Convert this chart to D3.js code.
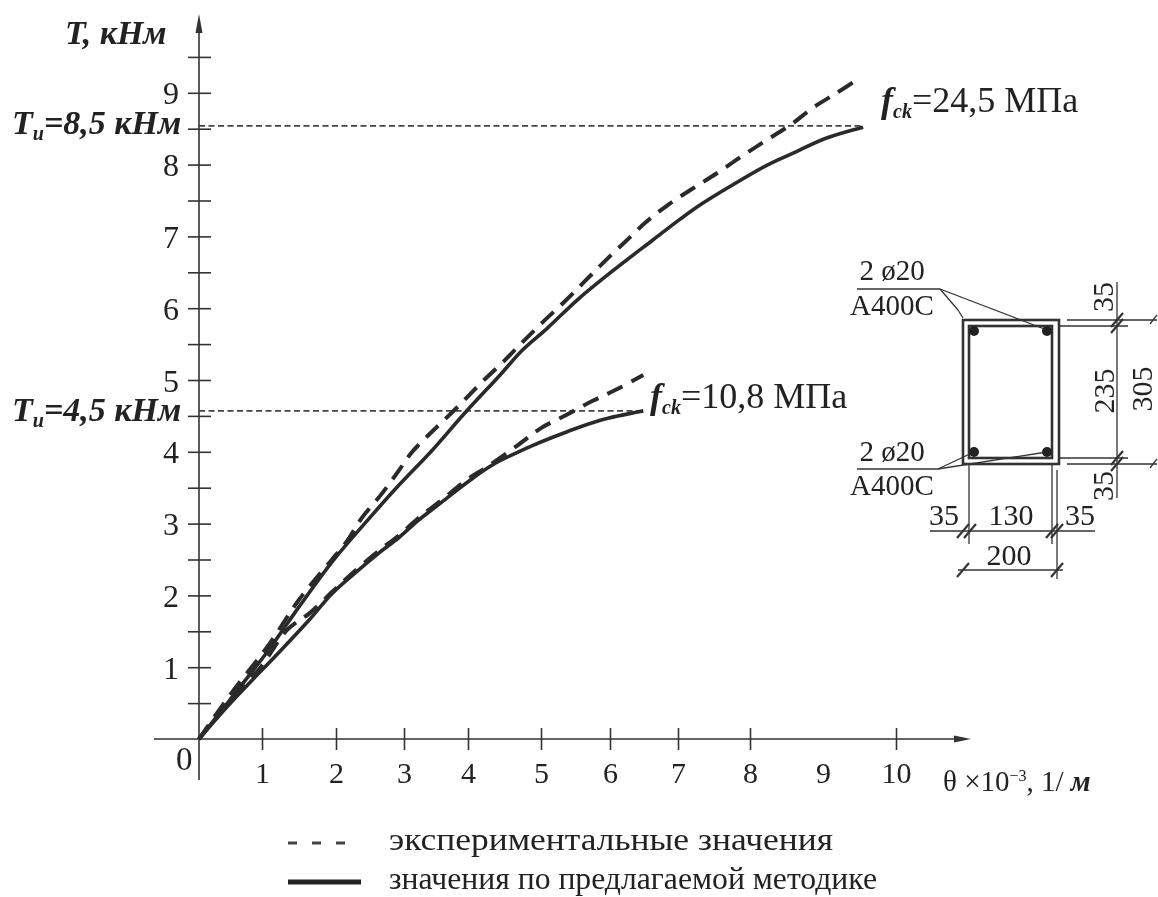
<!DOCTYPE html>
<html>
	<head>
		<meta charset="utf-8">
		<title>T - theta</title>
		<script src="https://d3js.org/d3.v7.min.js"></script>
		<style type="text/css">
			html, body { margin: 0; padding: 0; background: #fff; }
			svg { display: block; filter: blur(0.45px); }
			text { font-family: "Liberation Serif", serif; fill: #222; }
			.axis path, .axis line { fill: none; stroke: #333; stroke-width: 1.6; }
			.axis text { font-family: "Liberation Serif", serif; fill: #222; }
			.bi { font-weight: bold; font-style: italic; }
			.sec line, .sec polyline, .sec rect { fill: none; stroke: #333; stroke-width: 1.3; }
		</style>
	</head>
	<body>
		<script type="text/javascript">

			// values: [theta x 10^-3, T]
			var xTickValues = [0, 1, 2, 3, 4, 5, 6, 7, 8, 9, 10];
			var yTickValues = [0.5, 1, 1.5, 2, 2.5, 3, 3.5, 4, 4.5, 5, 5.5, 6, 6.5, 7, 7.5, 8, 8.5, 9, 9.5];

			var highCalc = [[0,0],[0.49,0.543],[1.09,1.24],[1.5,1.84],[1.95,2.47],[2.44,3.02],[2.93,3.54],[3.42,4],[3.95,4.54],[4.44,5.07],[4.75,5.42],[5.09,5.72],[5.52,6.11],[5.96,6.46],[6.63,6.95],[7.03,7.24],[7.31,7.44],[7.68,7.67],[8.23,7.99],[8.59,8.16],[9.05,8.37],[9.55,8.52]];
			var highExp = [[0,0],[0.49,0.61],[1.09,1.31],[1.5,1.94],[1.93,2.48],[2.15,2.74],[2.38,3.08],[2.66,3.4],[2.91,3.72],[3.11,3.98],[3.38,4.23],[3.59,4.41],[3.91,4.69],[4.19,4.97],[4.48,5.25],[4.75,5.53],[5.03,5.81],[5.35,6.1],[5.64,6.38],[5.93,6.66],[6.24,6.94],[6.53,7.2],[6.87,7.45],[7.21,7.67],[7.54,7.88],[7.89,8.12],[8.21,8.33],[8.55,8.55],[8.86,8.79],[9.19,9],[9.51,9.21]];
			var lowCalc = [[0,0],[0.49,0.49],[1.26,1.24],[1.64,1.66],[1.95,2.03],[2.24,2.28],[2.63,2.59],[2.93,2.81],[3.23,3.05],[3.59,3.3],[3.98,3.57],[4.34,3.82],[4.89,4.09],[5.38,4.28],[5.86,4.44],[6.49,4.57]];
			var lowExp = [[0,0],[0.49,0.54],[0.97,0.99],[1.34,1.52],[1.64,1.75],[1.95,2.05],[2.24,2.31],[2.63,2.62],[2.93,2.84],[3.23,3.08],[3.59,3.33],[3.98,3.61],[4.26,3.79],[4.68,4.09],[5,4.33],[5.36,4.51],[5.75,4.71],[6.1,4.87],[6.49,5.07]];

			var ultimateLines = [[8.54, 9.55], [4.57, 6.49]];
			var legendLabels = ['экспериментальные значения', 'значения по предлагаемой методике'];

			var svg = d3.select('body')
				.append('svg')
				.attr('width', 1158)
				.attr('height', 897);

			// the printed ticks are unevenly spaced, so the x scale goes through each of them
			var xScale = d3.scaleLinear()
				.domain(xTickValues)
				.range([199, 262, 336, 404, 468, 541, 610, 678, 750, 823, 896]);

			var yScale = d3.scaleLinear()
				.domain([0, 9])
				.range([739, 92.8]);

			var xAxis = d3.axisBottom(xScale)
				.tickValues(xTickValues.slice(1))
				.tickSizeOuter(0)
				.tickFormat(d3.format('d'));

			var yAxis = d3.axisLeft(yScale)
				.tickValues(yTickValues)
				.tickSizeOuter(0)
				.tickFormat(function(d) { return d % 1 === 0 ? d : ''; });

			var gx = svg.append('g')
				.attr('class', 'axis')
				.attr('transform', 'translate(0,' + yScale(0) + ')')
				.call(xAxis);
			gx.select('.domain').remove();
			gx.selectAll('.tick line').attr('y1', -11).attr('y2', 11);
			gx.selectAll('.tick').filter(function(d) { return d === 9; }).select('line').remove();
			gx.selectAll('.tick text')
				.attr('y', 44)
				.attr('dy', 0)
				.attr('font-size', 30)
				.attr('text-anchor', 'middle');

			var gy = svg.append('g')
				.attr('class', 'axis')
				.attr('transform', 'translate(' + xScale(0) + ',0)')
				.call(yAxis);
			gy.select('.domain').remove();
			gy.selectAll('.tick line').attr('x1', -11).attr('x2', 12);
			gy.selectAll('.tick text')
				.attr('x', -28)
				.attr('dy', 11)
				.attr('font-size', 32)
				.attr('text-anchor', 'middle');

			// axis lines with arrow heads
			var axisLines = svg.append('g').attr('class', 'axis');
			axisLines.append('line').attr('x1', 154).attr('x2', 965).attr('y1', yScale(0)).attr('y2', yScale(0));
			axisLines.append('line').attr('x1', xScale(0)).attr('x2', xScale(0)).attr('y1', 780).attr('y2', 25);
			svg.append('path').attr('d', 'M199 14 L195.5 33 L202.5 33 Z').attr('fill', '#333');
			svg.append('path').attr('d', 'M971 739 L954 735.5 L954 742.5 Z').attr('fill', '#333');

			// dashed limit lines
			svg.selectAll('.ult')
				.data(ultimateLines)
				.enter()
				.append('line')
				.attr('class', 'ult')
				.attr('x1', xScale(0))
				.attr('x2', function(d) { return xScale(d[1]); })
				.attr('y1', function(d) { return yScale(d[0]); })
				.attr('y2', function(d) { return yScale(d[0]); })
				.attr('stroke', '#444')
				.attr('stroke-width', 1.8)
				.attr('stroke-dasharray', '6 3.5');

			var line = d3.line()
				.x(function(d) { return xScale(d[0]); })
				.y(function(d) { return yScale(d[1]); })
				.curve(d3.curveCatmullRom);

			[highCalc, lowCalc].forEach(function(s) {
				svg.append('path')
					.attr('d', line(s))
					.attr('fill', 'none')
					.attr('stroke', '#2a2a2a')
					.attr('stroke-width', 3.6);
			});
			[highExp, lowExp].forEach(function(s) {
				svg.append('path')
					.attr('d', line(s))
					.attr('fill', 'none')
					.attr('stroke', '#2a2a2a')
					.attr('stroke-width', 4)
					.attr('stroke-dasharray', '17 10');
			});

			// labels
			function boldLabel(x, y, main, sub, rest) {
				var t = svg.append('text').attr('class', 'bi').attr('x', x).attr('y', y).attr('font-size', 34);
				t.append('tspan').text(main);
				t.append('tspan').attr('font-size', 20).attr('dy', 6).text(sub);
				t.append('tspan').attr('dy', -6).text(rest);
			}
			svg.append('text').attr('class', 'bi').attr('x', 65).attr('y', 44).attr('font-size', 34).text('T, кНм');
			boldLabel(12, 134, 'T', 'u', '=8,5 кНм');
			boldLabel(12, 421, 'T', 'u', '=4,5 кНм');

			svg.append('text').attr('x', 176).attr('y', 770).attr('font-size', 33).text('0');

			function fckLabel(x, y, rest) {
				var t = svg.append('text').attr('x', x).attr('y', y).attr('font-size', 36);
				t.append('tspan').attr('font-style', 'italic').attr('font-weight', 'bold').text('f');
				t.append('tspan').attr('font-style', 'italic').attr('font-weight', 'bold').attr('font-size', 20).attr('dy', 6).text('ck');
				t.append('tspan').attr('dy', -6).text(rest);
			}
			fckLabel(881, 112, '=24,5 МПа');
			fckLabel(650, 408, '=10,8 МПа');

			var xTitle = svg.append('text').attr('x', 943).attr('y', 791).attr('font-size', 29);
			xTitle.append('tspan').text('θ ×10');
			xTitle.append('tspan').attr('font-size', 16).attr('dy', -10).text('−3');
			xTitle.append('tspan').attr('dy', 10).text(', 1/ ');
			xTitle.append('tspan').attr('font-style', 'italic').attr('font-weight', 'bold').text('м');

			// legend
			svg.append('line').attr('x1', 288).attr('x2', 346).attr('y1', 843).attr('y2', 843)
				.attr('stroke', '#444').attr('stroke-width', 3).attr('stroke-dasharray', '9 15');
			svg.append('line').attr('x1', 288).attr('x2', 361).attr('y1', 882).attr('y2', 882)
				.attr('stroke', '#222').attr('stroke-width', 5);
			svg.selectAll('.legend')
				.data(legendLabels)
				.enter()
				.append('text')
				.attr('class', 'legend')
				.attr('x', 389)
				.attr('y', function(d, i) { return 850 + i * 39; })
				.attr('font-size', 31)
				.attr('textLength', function(d, i) { return i ? 488 : 444; })
				.attr('lengthAdjust', 'spacingAndGlyphs')
				.text(function(d) { return d; });

			// cross section sketch
			var sec = svg.append('g').attr('class', 'sec');
			var secLines = [
				[857,289,940,289],[940,289,958,310],[958,310,963,318],[940,289,1047,330],
				[857,469,938,469],[938,469,974,452],[938,469,1047,452],
				[1067,320,1157,320],[1059,326,1128,326],[1117,282,1117,498],
				[1059,458,1128,458],[1067,464,1157,464],
				[969,464,969,544],[1052,464,1052,544],[1057,470,1057,579],
				[930,531,1095,531],[958,570,1063,570],
				[1150,324,1157,315],[1150,468,1157,459]
			];
			sec.selectAll('.dim')
				.data(secLines)
				.enter()
				.append('line')
				.attr('class', 'dim')
				.attr('x1', function(d) { return d[0]; })
				.attr('y1', function(d) { return d[1]; })
				.attr('x2', function(d) { return d[2]; })
				.attr('y2', function(d) { return d[3]; });

			var slashes = [[1117,320],[1117,326],[1117,458],[1117,464],[963,531],[970,531],[1052,531],[1057,531],[963,570],[1057,570]];
			sec.selectAll('.slash')
				.data(slashes)
				.enter()
				.append('line')
				.attr('class', 'slash')
				.attr('x1', function(d) { return d[0] - 6; })
				.attr('y1', function(d) { return d[1] + 7; })
				.attr('x2', function(d) { return d[0] + 6; })
				.attr('y2', function(d) { return d[1] - 7; })
				.style('stroke-width', 2.2);

			sec.append('rect').attr('x', 963).attr('y', 320).attr('width', 96).attr('height', 144).style('stroke-width', 2.6);
			sec.append('rect').attr('x', 969).attr('y', 326).attr('width', 83).attr('height', 132).style('stroke-width', 2.6);

			var secBars = [[974,331],[1047,331],[974,452],[1047,452]];
			sec.selectAll('circle')
				.data(secBars)
				.enter()
				.append('circle')
				.attr('cx', function(d) { return d[0]; })
				.attr('cy', function(d) { return d[1]; })
				.attr('r', 5)
				.attr('fill', '#222');

			var secTexts = [
				['2 ø20', 892, 280, 29], ['А400С', 892, 315, 29], ['2 ø20', 892, 461, 29], ['А400С', 892, 495, 29],
				['35', 944, 525, 30], ['130', 1011, 525, 30], ['35', 1080, 525, 30], ['200', 1009, 565, 30]
			];
			sec.selectAll('.st')
				.data(secTexts)
				.enter()
				.append('text')
				.attr('class', 'st')
				.attr('x', function(d) { return d[1]; })
				.attr('y', function(d) { return d[2]; })
				.attr('text-anchor', 'middle')
				.attr('font-size', function(d) { return d[3]; })
				.text(function(d) { return d[0]; });

			var secRot = [['35', 1113, 297], ['235', 1114, 391], ['305', 1152, 389], ['35', 1113, 486]];
			sec.selectAll('.sr')
				.data(secRot)
				.enter()
				.append('text')
				.attr('class', 'sr')
				.attr('transform', function(d) { return 'translate(' + d[1] + ',' + d[2] + ') rotate(-90)'; })
				.attr('text-anchor', 'middle')
				.attr('font-size', 30)
				.text(function(d) { return d[0]; });

		</script>
	</body>
</html>
